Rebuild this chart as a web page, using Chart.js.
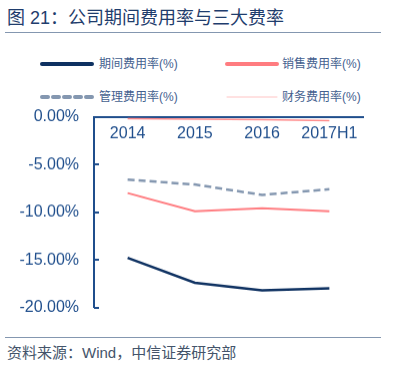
<!DOCTYPE html>
<html>
<head>
<meta charset="utf-8">
<script src="https://cdn.jsdelivr.net/npm/chart.js@4/dist/chart.umd.min.js"></script>
<style>
  body { margin: 0; width: 396px; height: 365px; background: #fff; position: relative; overflow: hidden;
         font-family: "Liberation Sans", Arial, "Noto Sans CJK SC", sans-serif; }
  .title { position: absolute; left: 7px; top: 3px; font-size: 18px; color: #1f3d6d; white-space: nowrap; }
  .rule { position: absolute; left: 5px; width: 376px; height: 1px; background: #8497b0; }
  .source { position: absolute; left: 7px; top: 341px; font-size: 15px; color: #44546a; white-space: nowrap; }
  .legend-item { position: absolute; font-size: 12px; color: #44618f; white-space: nowrap; height: 16px; line-height: 16px; }
  .legend-item svg { position: absolute; left: 0; top: 2px; }
  .legend-item span { position: absolute; top: 0; }
  #wrap { position: absolute; left: 0; top: 92.4px; width: 396px; height: 239.2px; }
</style>
</head>
<body>
<div class="title">图 21：公司期间费用率与三大费率</div>
<div class="rule" style="top:32px"></div>
<div id="legend"></div>
<div id="wrap"><canvas id="chart"></canvas></div>
<div class="rule" style="top:337px"></div>
<div class="source">资料来源：Wind，中信证券研究部</div>

<script>
// data
const categories = ['2014', '2015', '2016', '2017H1'];
const periodRate = [-14.8, -17.4, -18.2, -18.0];
const salesRate = [-8.0, -9.9, -9.6, -9.9];
const adminRate = [-6.6, -7.1, -8.2, -7.6];
const financeRate = [-0.2, -0.25, -0.3, -0.4];
const seriesNames = ['期间费用率(%)', '销售费用率(%)', '管理费用率(%)', '财务费用率(%)'];
const yTicks = [0, -5, -10, -15, -20];

const axisColor = '#1f4e8c';

const datasets = [
  { label: seriesNames[0], data: periodRate, borderColor: '#0e3161', borderWidth: 2.5 },
  { label: seriesNames[1], data: salesRate, borderColor: '#ff7c80', borderWidth: 2 },
  { label: seriesNames[2], data: adminRate, borderColor: '#8497b0', borderWidth: 2.5, borderDash: [7, 4] },
  { label: seriesNames[3], data: financeRate, borderColor: '#ff8a8a', borderWidth: 1.5 }
];
datasets.forEach(d => { d.pointRadius = 0; d.tension = 0; d.fill = false; });

// html legend, 2 x 2
const legendPos = [[40, 56], [225, 56], [40, 89], [225, 89]];
const legendStyle = [
  { w: 4, dash: '', color: '#0e3161' },
  { w: 4, dash: '', color: '#ff7c80' },
  { w: 4, dash: '6 5', color: '#8497b0' },
  { w: 1, dash: '', color: '#ffc4c4' }
];
const legendEl = document.getElementById('legend');
seriesNames.forEach((name, i) => {
  const s = legendStyle[i];
  const item = document.createElement('div');
  item.className = 'legend-item';
  item.style.left = legendPos[i][0] + 'px';
  item.style.top = legendPos[i][1] + 'px';
  item.innerHTML = '<svg width="56" height="12"><line x1="2" y1="6" x2="52" y2="6" stroke="' + s.color +
    '" stroke-width="' + s.w + '" stroke-linecap="round"' + (s.dash ? ' stroke-dasharray="' + s.dash + '"' : '') +
    '/></svg><span style="left:' + (i % 2 ? 57 : 59) + 'px">' + name + '</span>';
  legendEl.appendChild(item);
});

// tick marks pointing into the plot
const innerTicks = {
  id: 'innerTicks',
  afterDraw(chart) {
    const y = chart.scales.y;
    const ctx = chart.ctx;
    const left = chart.chartArea.left;
    ctx.save();
    ctx.strokeStyle = axisColor;
    ctx.lineWidth = 2;
    y.ticks.forEach(t => {
      const py = Math.round(y.getPixelForValue(t.value));
      ctx.beginPath();
      ctx.moveTo(left, py);
      ctx.lineTo(left + 5, py);
      ctx.stroke();
    });
    ctx.restore();
  }
};

new Chart(document.getElementById('chart'), {
  type: 'line',
  data: { labels: categories, datasets: datasets },
  options: {
    responsive: true,
    maintainAspectRatio: false,
    animation: false,
    layout: { padding: { top: 12, left: 19, right: 33, bottom: 13 } },
    plugins: { legend: { display: false }, tooltip: { enabled: false } },
    scales: {
      x: {
        type: 'category',
        position: { y: 0 },
        offset: true,
        afterFit: s => { s.height = 0; },
        grid: { drawOnChartArea: false, drawTicks: false },
        border: { display: true, color: axisColor, width: 2 },
        ticks: { color: axisColor, padding: 7, font: { size: 16, family: '"Liberation Sans", Arial' } }
      },
      y: {
        min: -20,
        max: 0,
        afterFit: s => { s.width = 75; },
        afterBuildTicks: scale => { scale.ticks = yTicks.map(v => ({ value: v })); },
        grid: { drawOnChartArea: false, drawTicks: false },
        border: { display: true, color: axisColor, width: 2 },
        ticks: {
          color: axisColor,
          padding: 15,
          font: { size: 16, family: '"Liberation Sans", Arial' },
          callback: v => v.toFixed(2) + '%'
        }
      }
    }
  },
  plugins: [innerTicks]
});
</script>
</body>
</html>
